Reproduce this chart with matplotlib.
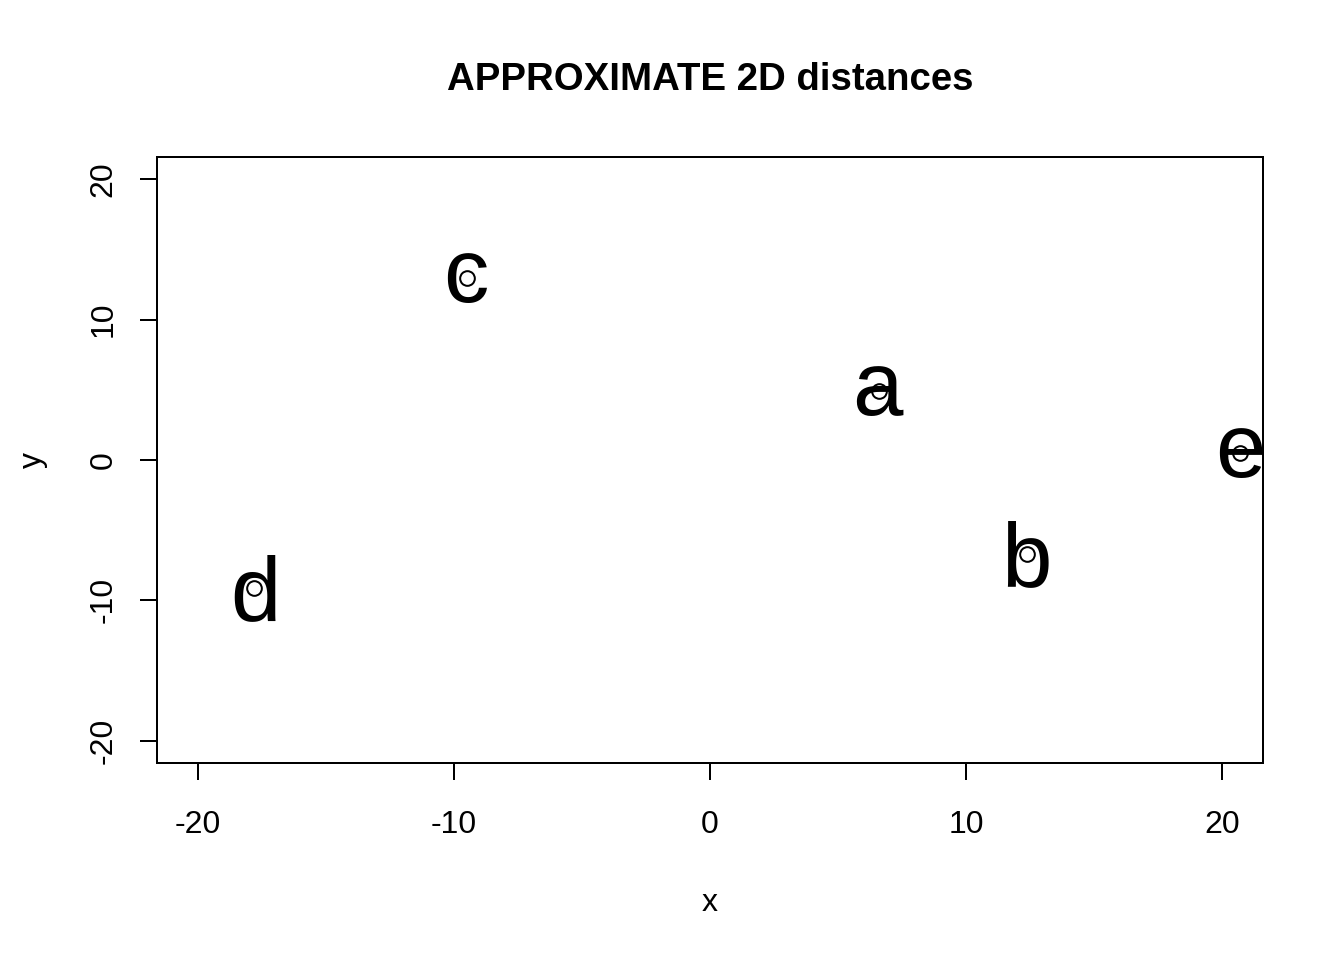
import matplotlib
matplotlib.use("Agg")
import matplotlib.pyplot as plt
from matplotlib.textpath import TextPath
from matplotlib.font_manager import FontProperties
from matplotlib.transforms import ScaledTranslation

# approximate 2D positions
labels = ["a", "b", "c", "d", "e"]
xs = [6.6, 12.4, -9.5, -17.8, 20.7]
ys = [4.9, -6.7, 13.0, -9.1, 0.5]

plt.rcParams['font.family'] = ['Liberation Sans', 'DejaVu Sans']
plt.rcParams['axes.unicode_minus'] = False

fig = plt.figure(figsize=(7, 5), dpi=192)
ax = fig.add_axes([0.1168, 0.2052, 0.8229, 0.6313])

ax.plot(xs, ys, linestyle="none", marker="o", markersize=5.5,
        markerfacecolor="none", markeredgecolor="black", markeredgewidth=0.75)

# centre each letter on its ink, like R's text()
fs = 34
fp = FontProperties(family="Liberation Sans", size=fs)
for lab, x, y in zip(labels, xs, ys):
    ext = TextPath((0, 0), lab, size=fs, prop=fp).get_extents()
    cx = (ext.x0 + ext.x1) / 2
    cy = (ext.y0 + ext.y1) / 2
    tr = ax.transData + ScaledTranslation(-cx / 72, -cy / 72, fig.dpi_scale_trans)
    ax.text(x, y, lab, fontproperties=fp, ha="left", va="baseline",
            transform=tr, clip_on=True)

ax.set_xlim(-21.6, 21.6)
ax.set_ylim(-21.6, 21.6)
ax.set_xticks([-20, -10, 0, 10, 20])
ax.set_yticks([-20, -10, 0, 10, 20])
ax.tick_params(direction="out", length=6.5, width=0.75, labelsize=12)
ax.tick_params(axis="x", pad=11)
ax.tick_params(axis="y", pad=8)
for lbl in ax.get_yticklabels():
    lbl.set_rotation(90)
    lbl.set_va("center")
for s in ax.spines.values():
    s.set_linewidth(0.75)

ax.set_xlabel("x", fontsize=12, labelpad=18)
ax.set_ylabel("y", fontsize=12, labelpad=15)
ax.set_title("APPROXIMATE 2D distances", fontsize=14.4, fontweight="bold", pad=25)

fig.savefig("out.png", dpi=192)
